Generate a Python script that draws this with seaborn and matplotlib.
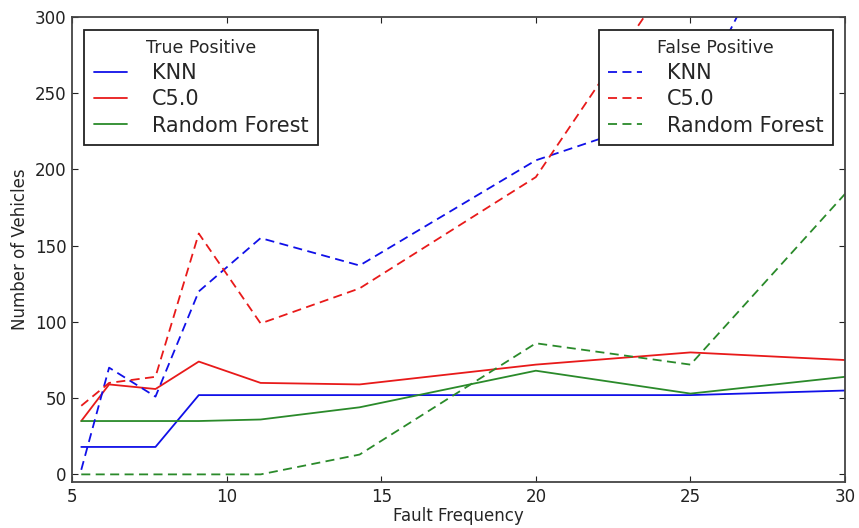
import matplotlib
matplotlib.use("Agg")
import matplotlib.pyplot as plt
import seaborn as sns
import pandas as pd
from matplotlib.lines import Line2D

# ---- data ----
fault_freq = [5.3, 6.2, 7.7, 9.1, 11.1, 14.3, 20, 25, 30]
tp_knn = [18, 18, 18, 52, 52, 52, 52, 52, 55]
tp_c50 = [35, 59, 56, 74, 60, 59, 72, 80, 75]
tp_rf = [35, 35, 35, 35, 36, 44, 68, 53, 64]
fp_knn = [3, 70, 51, 120, 155, 137, 206, 240, 440]
fp_c50 = [45, 60, 64, 158, 99, 122, 195, 345, 380]
fp_rf = [0, 0, 0, 0, 0, 13, 86, 72, 184]
model_names = ["KNN", "C5.0", "Random Forest"]
x_ticks = [5, 10, 15, 20, 25, 30]
y_ticks = [0, 50, 100, 150, 200, 250, 300]

sns.set_theme(style="ticks")
plt.rcParams['font.family'] = ['DejaVu Sans']

colors = ["#1010e8", "#e81a1a", "#2a8a2a"]
dash = (0, (5, 3))
lw = 1.3

fig = plt.figure(figsize=(8.59, 5.28), dpi=100)
ax = fig.add_axes([0.0838, 0.0871, 0.9, 0.8807])

tp_series = [tp_knn, tp_c50, tp_rf]
fp_series = [fp_knn, fp_c50, fp_rf]

for vals, c in zip(tp_series, colors):
    sns.lineplot(x=fault_freq, y=vals, color=c, linewidth=lw, ax=ax, legend=False)
for vals, c in zip(fp_series, colors):
    sns.lineplot(x=fault_freq, y=vals, color=c, linewidth=lw, linestyle=dash,
                 ax=ax, legend=False)

ax.set_xlim(5, 30)
ax.set_ylim(-5, 300)
ax.set_xticks(x_ticks)
ax.set_yticks(y_ticks)
ax.set_xlabel("Fault Frequency", fontsize=12, labelpad=1)
ax.set_ylabel("Number of Vehicles", fontsize=12, labelpad=4)
ax.tick_params(direction="in", top=True, right=True, length=4, width=0.8,
               labelsize=12, colors="#222222", pad=4)
for s in ax.spines.values():
    s.set_color("#444444")
    s.set_linewidth(1.3)
    s.set_visible(True)

tp_handles = [Line2D([], [], color=c, lw=lw) for c in colors]
fp_handles = [Line2D([], [], color=c, lw=lw, linestyle=dash) for c in colors]

leg_kw = dict(fontsize=15, title_fontsize=12.5, fancybox=False, framealpha=1,
              edgecolor="#222222", handlelength=1.6, handletextpad=1.2,
              borderpad=0.45, labelspacing=0.3, borderaxespad=0.6)
leg1 = ax.legend(tp_handles, model_names, title="True Positive", loc="upper left", **leg_kw)
leg1.get_frame().set_linewidth(1.3)
ax.add_artist(leg1)
leg2 = ax.legend(fp_handles, model_names, title="False Positive", loc="upper right", **leg_kw)
leg2.get_frame().set_linewidth(1.3)

fig.savefig("out.png", dpi=100)
